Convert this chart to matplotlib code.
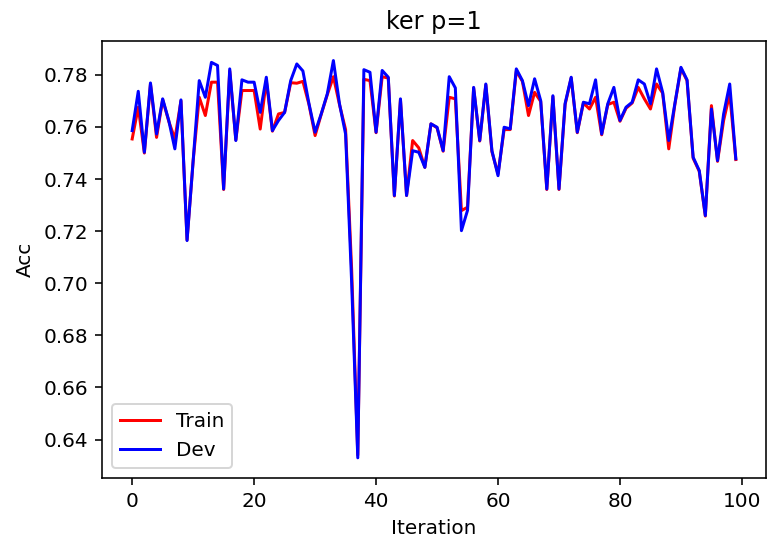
import matplotlib
matplotlib.use("Agg")
from matplotlib import pyplot as plt

# valores
iteracoes = list(range(100))

dev = [0.7586, 0.7737, 0.7503, 0.7769, 0.7573, 0.7708, 0.7625, 0.7516, 0.7704, 0.7164,
       0.7470, 0.7778, 0.7714, 0.7848, 0.7836, 0.7362, 0.7823, 0.7548, 0.7781, 0.7772,
       0.7772, 0.7656, 0.7791, 0.7586, 0.7625, 0.7656, 0.7778, 0.7842, 0.7815, 0.7689,
       0.7580, 0.7650, 0.7727, 0.7855, 0.7689, 0.7573, 0.7000, 0.6330, 0.7820, 0.7810,
       0.7580, 0.7817, 0.7791, 0.7337, 0.7708, 0.7337, 0.7509, 0.7503, 0.7445, 0.7612,
       0.7599, 0.7509, 0.7793, 0.7750, 0.7202, 0.7280, 0.7752, 0.7548, 0.7765, 0.7509,
       0.7413, 0.7599, 0.7593, 0.7823, 0.7778, 0.7682, 0.7785, 0.7701, 0.7362, 0.7720,
       0.7362, 0.7690, 0.7791, 0.7580, 0.7695, 0.7689, 0.7781, 0.7573, 0.7689, 0.7752,
       0.7625, 0.7676, 0.7695, 0.7781, 0.7765, 0.7689, 0.7823, 0.7733, 0.7548, 0.7689,
       0.7829, 0.7781, 0.7484, 0.7433, 0.7260, 0.7669, 0.7471, 0.7650, 0.7765, 0.7478]

train = [0.7554, 0.7676, 0.7500, 0.7765, 0.7560, 0.7705, 0.7622, 0.7554, 0.7700, 0.7166,
         0.7470, 0.7714, 0.7644, 0.7772, 0.7772, 0.7360, 0.7815, 0.7550, 0.7740, 0.7740,
         0.7740, 0.7592, 0.7778, 0.7584, 0.7650, 0.7656, 0.7770, 0.7768, 0.7775, 0.7686,
         0.7567, 0.7648, 0.7724, 0.7793, 0.7686, 0.7590, 0.7050, 0.6340, 0.7783, 0.7778,
         0.7578, 0.7793, 0.7788, 0.7335, 0.7705, 0.7337, 0.7548, 0.7520, 0.7445, 0.7612,
         0.7597, 0.7507, 0.7714, 0.7708, 0.7279, 0.7292, 0.7750, 0.7546, 0.7762, 0.7505,
         0.7420, 0.7590, 0.7590, 0.7815, 0.7775, 0.7644, 0.7733, 0.7698, 0.7360, 0.7717,
         0.7360, 0.7686, 0.7788, 0.7578, 0.7692, 0.7669, 0.7714, 0.7570, 0.7686, 0.7695,
         0.7622, 0.7672, 0.7692, 0.7752, 0.7708, 0.7669, 0.7765, 0.7730, 0.7516, 0.7686,
         0.7825, 0.7778, 0.7480, 0.7430, 0.7258, 0.7682, 0.7468, 0.7625, 0.7727, 0.7475]

fig = plt.figure(figsize=(768 / 144, 544 / 144), dpi=144)
ax = fig.add_axes([0.1328, 0.1219, 0.8646, 0.8033])
ax.plot(iteracoes, train, color="red", label="Train")
ax.plot(iteracoes, dev, color="blue", label="Dev")
ax.set_title("ker p=1")
ax.set_xlabel("Iteration")
ax.set_ylabel("Acc")
ax.legend(loc="lower left")
fig.savefig("out.png", dpi=144)
